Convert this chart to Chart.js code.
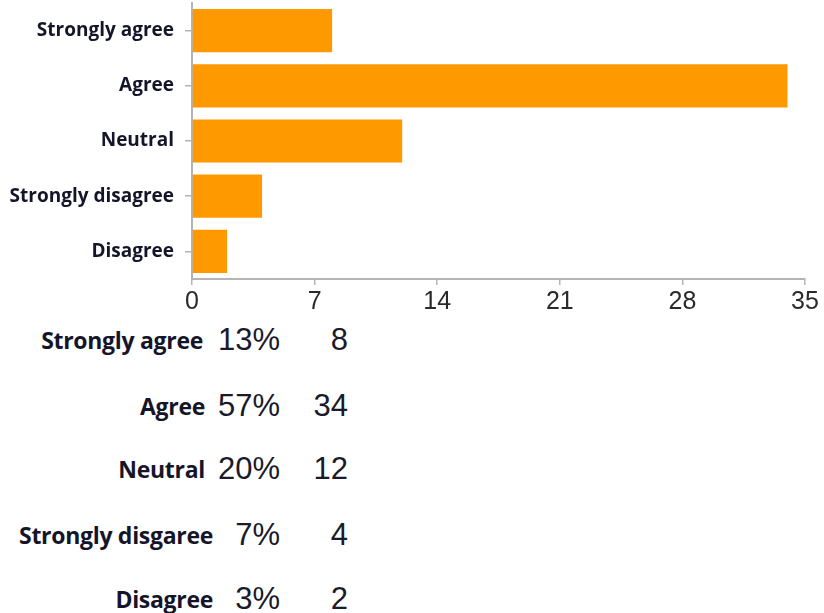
<!DOCTYPE html>
<html>
<head>
<meta charset="utf-8">
<script src="https://cdn.jsdelivr.net/npm/chart.js@4/dist/chart.umd.min.js"></script>
<style>
  html, body { margin: 0; padding: 0; background: #fff; }
  body { width: 824px; height: 613px; position: relative; overflow: hidden; }
  #wrap { position: absolute; left: 0; top: 0; width: 824px; height: 320px; }
  .row { position: absolute; left: 0; height: 40px; line-height: 40px; white-space: nowrap; }
  .lab { position: absolute; width: 300px; text-align: right;
         font-family: "Open Sans", sans-serif; font-weight: 700; font-size: 23px; color: #15152a; letter-spacing: -0.3px; }
  .pct, .cnt { position: absolute; text-align: right; font-family: "Liberation Sans", Arial, sans-serif;
         font-size: 31px; color: #1a1a2a; }
</style>
</head>
<body>
<div id="wrap"><canvas id="c" width="824" height="320"></canvas></div>
<div id="table"></div>
<script>
const categories = ["Strongly agree", "Agree", "Neutral", "Strongly disagree", "Disagree"];
const counts = [8, 34, 12, 4, 2];
const tableLabels = ["Strongly agree", "Agree", "Neutral", "Strongly disgaree", "Disagree"];
const tablePercents = ["13%", "57%", "20%", "7%", "3%"];
const tableCounts = ["8", "34", "12", "4", "2"];
const xTicks = [0, 7, 14, 21, 28, 35];

const ctx = document.getElementById('c');
new Chart(ctx, {
  type: 'bar',
  data: {
    labels: categories,
    datasets: [{
      data: counts,
      backgroundColor: '#ff9900',
      borderWidth: 0,
      barPercentage: 0.86,
      categoryPercentage: 0.91
    }]
  },
  options: {
    indexAxis: 'y',
    responsive: false,
    animation: false,
    devicePixelRatio: 1,
    layout: { padding: { top: 3, right: 19, left: 0, bottom: 0 } },
    plugins: { legend: { display: false }, tooltip: { enabled: false } },
    scales: {
      x: {
        min: 0, max: 35,
        afterBuildTicks: (s) => { s.ticks = xTicks.map(v => ({ value: v })); },
        afterFit: (s) => { s.height = 41; },
        grid: { drawOnChartArea: false, drawTicks: true, tickLength: 6, color: '#b4b4b4', lineWidth: 1.5 },
        border: { color: '#b4b4b4', width: 2 },
        ticks: { padding: 2, color: '#2a2a2a', font: { family: 'Liberation Sans', size: 25 } }
      },
      y: {
        afterFit: (s) => { s.width = 192; s.paddingTop = 0; s.paddingBottom = 0; },
        grid: { drawOnChartArea: false, drawTicks: true, tickLength: 7, color: '#b4b4b4', lineWidth: 1.5, offset: false },
        border: { color: '#b4b4b4', width: 2 },
        ticks: { padding: 11, color: '#15152a', font: { family: 'Open Sans', weight: 'bold', size: 19 } }
      }
    }
  }
});

const table = document.getElementById('table');
const rowTop = [340, 406, 469, 535, 599];
const labelRight = [203, 205, 205, 213, 213];
tableLabels.forEach((lab, i) => {
  const r = document.createElement('div');
  r.className = 'row';
  r.style.top = (rowTop[i] - 20) + 'px';
  r.style.width = '824px';
  r.innerHTML =
    '<span class="lab" style="left:' + (labelRight[i] - 300) + 'px">' + lab + '</span>' +
    '<span class="pct" style="left:180px;width:100px">' + tablePercents[i] + '</span>' +
    '<span class="cnt" style="left:290px;width:58px">' + tableCounts[i] + '</span>';
  table.appendChild(r);
});
</script>
</body>
</html>
